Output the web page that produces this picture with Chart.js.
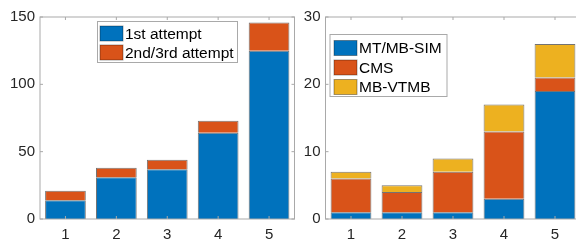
<!DOCTYPE html>
<html>
<head>
<meta charset="utf-8">
<script src="https://cdn.jsdelivr.net/npm/chart.js@4.4.0/dist/chart.umd.min.js"></script>
<style>
  html, body { margin: 0; padding: 0; background: #fff; }
  #wrap { position: relative; width: 576px; height: 241px; overflow: hidden; background: #fff; }
  #left { position: absolute; left: 0; top: 0; }
  #right { position: absolute; left: 296px; top: 0; }
</style>
</head>
<body>
<div id="wrap">
  <canvas id="left" width="300" height="241"></canvas>
  <canvas id="right" width="290" height="241"></canvas>
</div>
<script>
const categories = ["1", "2", "3", "4", "5"];

// left panel: attempts
const firstAttempt = [14, 31, 37, 64, 125];
const laterAttempt = [7, 7, 7, 9, 21];
const leftTicks = [0, 50, 100, 150];

// right panel: methods
const mtMbSim = [1, 1, 1, 3, 19];
const cmsVals = [5, 3, 6, 10, 2];
const mbVtmb = [1, 1, 2, 4, 5];
const rightTicks = [0, 10, 20, 30];

const BLUE = "#0072BD", ORANGE = "#D95319", YELLOW = "#EDB120";
const FONT = "'Liberation Sans', Arial, sans-serif";
const AXIS = "#a9a9a9";

// box around the axes with inward ticks on all four sides, like matlab
const boxAxes = {
  id: "boxAxes",
  afterDatasetsDraw(chart) {
    const { ctx, chartArea: a, scales } = chart;
    ctx.save();
    ctx.strokeStyle = AXIS;
    ctx.lineWidth = 1;
    ctx.strokeRect(a.left, a.top, a.right - a.left, a.bottom - a.top);
    ctx.beginPath();
    scales.x.ticks.forEach((t, i) => {
      const px = scales.x.getPixelForTick(i);
      ctx.moveTo(px, a.bottom); ctx.lineTo(px, a.bottom - 3);
      ctx.moveTo(px, a.top); ctx.lineTo(px, a.top + 3);
    });
    scales.y.ticks.forEach(t => {
      const py = scales.y.getPixelForValue(t.value);
      ctx.moveTo(a.left, py); ctx.lineTo(a.left + 3, py);
      ctx.moveTo(a.right, py); ctx.lineTo(a.right - 3, py);
    });
    ctx.stroke();
    ctx.restore();
  }
};

// legend box inside the plot
const boxLegend = {
  id: "boxLegend",
  afterDraw(chart, args, opts) {
    const ctx = chart.ctx;
    ctx.save();
    ctx.fillStyle = "#fff";
    ctx.fillRect(opts.x, opts.y, opts.w, opts.h);
    ctx.strokeStyle = AXIS;
    ctx.lineWidth = 1;
    ctx.strokeRect(opts.x, opts.y, opts.w, opts.h);
    ctx.font = "15.5px " + FONT;
    ctx.textBaseline = "middle";
    chart.data.datasets.forEach((ds, i) => {
      const cy = opts.rows[i];
      ctx.fillStyle = ds.backgroundColor;
      ctx.fillRect(opts.px, cy - 7.5, 23, 15);
      ctx.strokeStyle = "rgba(0,0,0,0.35)";
      ctx.strokeRect(opts.px, cy - 7.5, 23, 15);
      ctx.fillStyle = "#000";
      ctx.fillText(ds.label, opts.tx, cy + 1);
    });
    ctx.restore();
  }
};

function makeChart(id, datasets, ticks, pad, yWidth, legend) {
  return new Chart(document.getElementById(id), {
    type: "bar",
    data: { labels: categories, datasets: datasets },
    options: {
      responsive: false,
      animation: false,
      layout: { padding: pad },
      datasets: {
        bar: {
          barPercentage: 0.8,
          categoryPercentage: 1,
          borderWidth: 1,
          borderColor: "rgba(0,0,0,0.55)"
        }
      },
      scales: {
        x: {
          stacked: true,
          offset: true,
          grid: { display: false, drawTicks: false },
          border: { display: false },
          ticks: { color: "#262626", padding: 7, font: { family: FONT, size: 15 } },
          afterFit(s) { s.height = 22; }
        },
        y: {
          stacked: true,
          min: ticks[0],
          max: ticks[ticks.length - 1],
          grid: { display: false, drawTicks: false },
          border: { display: false },
          ticks: { stepSize: ticks[1] - ticks[0], color: "#262626", padding: 5, font: { family: FONT, size: 15 } },
          afterFit(s) { s.width = yWidth; }
        }
      },
      plugins: {
        legend: { display: false },
        tooltip: { enabled: false },
        boxLegend: legend
      }
    },
    plugins: [boxAxes, boxLegend]
  });
}

makeChart("left", [
  { label: "1st attempt", data: firstAttempt, backgroundColor: BLUE },
  { label: "2nd/3rd attempt", data: laterAttempt, backgroundColor: ORANGE }
], leftTicks, { left: 0, top: 17, right: 5.5, bottom: 0 }, 40,
  { x: 97.5, y: 21.5, w: 140, h: 41, px: 100, tx: 125, rows: [33.5, 52.5] });

makeChart("right", [
  { label: "MT/MB-SIM", data: mtMbSim, backgroundColor: BLUE },
  { label: "CMS", data: cmsVals, backgroundColor: ORANGE },
  { label: "MB-VTMB", data: mbVtmb, backgroundColor: YELLOW }
], rightTicks, { left: 0, top: 17, right: 5.5, bottom: 0 }, 29.5,
  { x: 34, y: 34.5, w: 117, h: 62, px: 38, tx: 63, rows: [48, 67.5, 87] });
</script>
</body>
</html>
